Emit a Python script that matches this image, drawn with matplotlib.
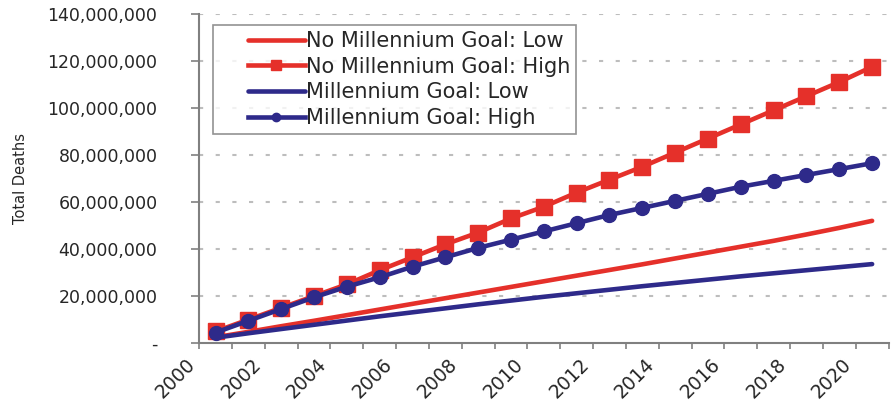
import numpy as np
import matplotlib
matplotlib.use("Agg")
import matplotlib.pyplot as plt
from matplotlib.ticker import FuncFormatter
from matplotlib.transforms import ScaledTranslation
from matplotlib.lines import Line2D
from matplotlib.legend_handler import HandlerLine2D

# Data (deaths in millions)
years = list(range(2000, 2021))
no_goal_low = [2.5, 4.8, 7.2, 9.5, 11.9, 14.3, 16.7, 19.1, 21.5, 23.9, 26.3,
               28.7, 31.1, 33.5, 36.0, 38.5, 41.0, 43.5, 46.2, 49.0, 52.0]
no_goal_high = [5.0, 10.0, 15.0, 20.0, 25.0, 31.0, 36.5, 42.0, 47.0, 53.0, 58.0,
                64.0, 69.5, 75.0, 81.0, 87.0, 93.0, 99.0, 105.0, 111.0, 117.5]
goal_low = [2.3, 4.2, 6.0, 7.8, 9.6, 11.4, 13.1, 14.8, 16.5, 18.1, 19.7,
            21.2, 22.7, 24.2, 25.6, 27.0, 28.4, 29.7, 31.0, 32.3, 33.6]
goal_high = [4.5, 9.5, 14.5, 19.5, 24.0, 28.0, 32.5, 36.5, 40.5, 44.0, 47.5,
             51.0, 54.5, 57.5, 60.5, 63.5, 66.5, 69.0, 71.5, 74.0, 76.5]

RED = "#e5302a"
BLUE = "#2e2a8a"
TEXT = "#262626"

plt.rcParams["font.family"] = ["DejaVu Sans"]

fig = plt.figure(figsize=(8.93, 4.08), dpi=100)
ax = fig.add_axes([0.223, 0.159, 0.772, 0.807])

x = np.arange(len(years))
scale = 1e6
ax.plot(x, np.array(no_goal_low) * scale, color=RED, lw=3.3,
        solid_capstyle="round", label="No Millennium Goal: Low", zorder=3)
ax.plot(x, np.array(no_goal_high) * scale, color=RED, lw=3.3, marker="s",
        markersize=11, label="No Millennium Goal: High", zorder=3)
ax.plot(x, np.array(goal_low) * scale, color=BLUE, lw=3.3,
        solid_capstyle="round", label="Millennium Goal: Low", zorder=4)
ax.plot(x, np.array(goal_high) * scale, color=BLUE, lw=3.3, marker="o",
        markersize=10, label="Millennium Goal: High", zorder=4)

ax.set_xlim(-0.5, len(years) - 0.5)
ax.set_ylim(0, 140e6)

# category boundaries carry the ticks; every other year is labelled
bounds = np.arange(len(years) + 1) - 0.5
labels = [str(years[i]) if i < len(years) and i % 2 == 0 else "" for i in range(len(bounds))]
ax.set_xticks(bounds)
ax.set_xticklabels(labels, rotation=45, ha="right", va="center",
                   rotation_mode="anchor", fontsize=13.5, color=TEXT)
ax.tick_params(axis="x", direction="out", length=4, width=1.2, color="#808080", pad=9)
for lab in ax.get_xticklabels():
    lab.set_transform(lab.get_transform() + ScaledTranslation(-5 / 72, 0, fig.dpi_scale_trans))

ax.set_yticks(np.arange(0, 141e6, 20e6))
ax.yaxis.set_major_formatter(FuncFormatter(lambda v, p: "-" if v == 0 else f"{v:,.0f}"))
ax.tick_params(axis="y", direction="out", length=6, width=1.2, color="#808080",
               pad=24, labelsize=12.5, labelcolor=TEXT)

for yv in np.arange(20e6, 141e6, 20e6):
    ax.axhline(yv, color="#bdbdbd", lw=1.5, ls=(0, (2, 6)), zorder=1)

for s in ["top", "right"]:
    ax.spines[s].set_visible(False)
for s in ["left", "bottom"]:
    ax.spines[s].set_color("#808080")
    ax.spines[s].set_linewidth(1.5)

ax.set_ylabel("Total Deaths", fontsize=10.5, color=TEXT, labelpad=14)

leg = ax.legend(loc="upper left", bbox_to_anchor=(0.02, 0.967), borderaxespad=0,
                fontsize=15, frameon=True, fancybox=False, handlelength=4.1,
                handletextpad=0.05, labelspacing=0.27, markerscale=0.6,
                borderpad=0.3, handler_map={Line2D: HandlerLine2D(xpad=1.4)})
leg.get_frame().set_edgecolor("#777777")
leg.get_frame().set_linewidth(1.2)
for t in leg.get_texts():
    t.set_color(TEXT)

fig.savefig("out.png", dpi=100)
